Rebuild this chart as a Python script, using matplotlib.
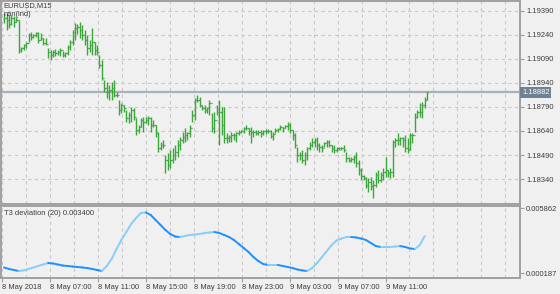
import numpy as np
import matplotlib
matplotlib.use('Agg')
import matplotlib.pyplot as plt
import matplotlib.transforms as mtransforms

# price bars (EURUSD M15)
highs = [1.19378, 1.19371, 1.19365, 1.19365, 1.19359, 1.19353, 1.19334, 1.19165, 1.19184, 1.19196,
         1.19253, 1.19259, 1.19246, 1.19259, 1.19259, 1.19253, 1.19221, 1.19221, 1.19159, 1.19146,
         1.19146, 1.19153, 1.19146, 1.19159, 1.19140, 1.19134, 1.19178, 1.19209, 1.19271, 1.19315,
         1.19309, 1.19321, 1.19303, 1.19271, 1.19240, 1.19209, 1.19284, 1.19196, 1.19178, 1.19115,
         1.19084, 1.18959, 1.18946, 1.18928, 1.18946, 1.18959, 1.18884, 1.18834, 1.18815, 1.18803,
         1.18771, 1.18759, 1.18790, 1.18784, 1.18721, 1.18678, 1.18721, 1.18728, 1.18728, 1.18734,
         1.18728, 1.18709, 1.18678, 1.18634, 1.18571, 1.18584, 1.18490, 1.18503, 1.18521, 1.18534,
         1.18553, 1.18584, 1.18603, 1.18634, 1.18659, 1.18634, 1.18678, 1.18771, 1.18846, 1.18865,
         1.18853, 1.18803, 1.18803, 1.18790, 1.18834, 1.18753, 1.18759, 1.18803, 1.18834, 1.18790,
         1.18790, 1.18628, 1.18615, 1.18634, 1.18628, 1.18634, 1.18646, 1.18646, 1.18665, 1.18678,
         1.18659, 1.18665, 1.18646, 1.18646, 1.18646, 1.18646, 1.18646, 1.18653, 1.18653, 1.18646,
         1.18634, 1.18659, 1.18659, 1.18678, 1.18665, 1.18678, 1.18696, 1.18690, 1.18646, 1.18628,
         1.18540, 1.18509, 1.18521, 1.18509, 1.18540, 1.18571, 1.18596, 1.18596, 1.18603, 1.18565,
         1.18553, 1.18571, 1.18584, 1.18584, 1.18553, 1.18553, 1.18540, 1.18540, 1.18540, 1.18553,
         1.18509, 1.18478, 1.18478, 1.18490, 1.18509, 1.18459, 1.18409, 1.18365, 1.18353, 1.18346,
         1.18353, 1.18334, 1.18384, 1.18396, 1.18384, 1.18409, 1.18478, 1.18396, 1.18409, 1.18584,
         1.18596, 1.18628, 1.18603, 1.18603, 1.18615, 1.18596, 1.18628, 1.18628, 1.18753, 1.18771,
         1.18815, 1.18821, 1.18853, 1.18884]
lows = [1.19315, 1.19271, 1.19284, 1.19303, 1.19290, 1.19321, 1.19128, 1.19134, 1.19146, 1.19159,
        1.19196, 1.19209, 1.19221, 1.19228, 1.19190, 1.19209, 1.19178, 1.19178, 1.19096, 1.19084,
        1.19103, 1.19109, 1.19115, 1.19109, 1.19103, 1.19103, 1.19115, 1.19146, 1.19178, 1.19209,
        1.19246, 1.19221, 1.19209, 1.19178, 1.19115, 1.19134, 1.19115, 1.19115, 1.19115, 1.19034,
        1.18959, 1.18884, 1.18846, 1.18834, 1.18834, 1.18853, 1.18853, 1.18740, 1.18753, 1.18759,
        1.18696, 1.18690, 1.18696, 1.18709, 1.18615, 1.18628, 1.18665, 1.18634, 1.18690, 1.18678,
        1.18634, 1.18665, 1.18603, 1.18509, 1.18521, 1.18534, 1.18378, 1.18396, 1.18409, 1.18440,
        1.18459, 1.18478, 1.18521, 1.18565, 1.18571, 1.18584, 1.18603, 1.18696, 1.18709, 1.18821,
        1.18790, 1.18771, 1.18753, 1.18753, 1.18740, 1.18634, 1.18628, 1.18740, 1.18553, 1.18615,
        1.18565, 1.18565, 1.18571, 1.18571, 1.18584, 1.18571, 1.18615, 1.18628, 1.18628, 1.18646,
        1.18615, 1.18565, 1.18603, 1.18615, 1.18615, 1.18603, 1.18615, 1.18621, 1.18628, 1.18596,
        1.18584, 1.18628, 1.18634, 1.18646, 1.18634, 1.18659, 1.18646, 1.18628, 1.18584, 1.18534,
        1.18446, 1.18459, 1.18440, 1.18428, 1.18459, 1.18521, 1.18540, 1.18540, 1.18521, 1.18509,
        1.18509, 1.18540, 1.18540, 1.18540, 1.18509, 1.18503, 1.18509, 1.18521, 1.18521, 1.18509,
        1.18446, 1.18446, 1.18446, 1.18440, 1.18415, 1.18365, 1.18334, 1.18334, 1.18284, 1.18259,
        1.18271, 1.18221, 1.18290, 1.18315, 1.18321, 1.18334, 1.18353, 1.18353, 1.18346, 1.18353,
        1.18540, 1.18553, 1.18553, 1.18540, 1.18509, 1.18503, 1.18521, 1.18565, 1.18634, 1.18721,
        1.18728, 1.18721, 1.18784, 1.18834]
closes = [1.19346, 1.19334, 1.19309, 1.19346, 1.19321, 1.19334, 1.19146, 1.19159, 1.19178, 1.19190,
          1.19240, 1.19228, 1.19240, 1.19253, 1.19209, 1.19221, 1.19190, 1.19184, 1.19134, 1.19115,
          1.19134, 1.19128, 1.19134, 1.19146, 1.19115, 1.19128, 1.19165, 1.19196, 1.19259, 1.19284,
          1.19290, 1.19271, 1.19240, 1.19209, 1.19159, 1.19178, 1.19196, 1.19146, 1.19134, 1.19053,
          1.18971, 1.18909, 1.18884, 1.18896, 1.18909, 1.18865, 1.18865, 1.18771, 1.18803, 1.18784,
          1.18721, 1.18740, 1.18771, 1.18728, 1.18646, 1.18665, 1.18709, 1.18696, 1.18709, 1.18721,
          1.18678, 1.18678, 1.18628, 1.18534, 1.18553, 1.18553, 1.18459, 1.18428, 1.18459, 1.18490,
          1.18509, 1.18553, 1.18584, 1.18603, 1.18615, 1.18628, 1.18659, 1.18740, 1.18834, 1.18834,
          1.18803, 1.18784, 1.18771, 1.18784, 1.18815, 1.18659, 1.18709, 1.18759, 1.18759, 1.18678,
          1.18596, 1.18596, 1.18603, 1.18615, 1.18615, 1.18628, 1.18634, 1.18640, 1.18659, 1.18659,
          1.18640, 1.18634, 1.18634, 1.18628, 1.18634, 1.18628, 1.18640, 1.18640, 1.18640, 1.18609,
          1.18621, 1.18646, 1.18653, 1.18665, 1.18659, 1.18671, 1.18678, 1.18646, 1.18615, 1.18553,
          1.18490, 1.18490, 1.18459, 1.18490, 1.18534, 1.18553, 1.18571, 1.18584, 1.18553, 1.18540,
          1.18534, 1.18565, 1.18571, 1.18553, 1.18534, 1.18521, 1.18534, 1.18534, 1.18534, 1.18521,
          1.18471, 1.18459, 1.18465, 1.18478, 1.18440, 1.18396, 1.18359, 1.18346, 1.18303, 1.18321,
          1.18296, 1.18303, 1.18365, 1.18334, 1.18365, 1.18384, 1.18396, 1.18378, 1.18384, 1.18571,
          1.18584, 1.18584, 1.18596, 1.18584, 1.18534, 1.18521, 1.18615, 1.18615, 1.18728, 1.18759,
          1.18759, 1.18803, 1.18834, 1.18882]
first_open = 1.19340
last_price = 1.18882

# T3 deviation (20), one reading every 2 bars
t3_dev = [0.00067, 0.00054, 0.00045, 0.00036, 0.00041, 0.00054, 0.00067, 0.00080, 0.00093, 0.00106,
          0.00102, 0.00093, 0.00084, 0.00080, 0.00075, 0.00071, 0.00067, 0.00062, 0.00054, 0.00045,
          0.00036, 0.00080, 0.00141, 0.00228, 0.00307, 0.00377, 0.00447, 0.00499, 0.00543, 0.00547,
          0.00525, 0.00481, 0.00438, 0.00394, 0.00359, 0.00337, 0.00333, 0.00342, 0.00351, 0.00355,
          0.00359, 0.00368, 0.00372, 0.00377, 0.00368, 0.00351, 0.00333, 0.00307, 0.00272, 0.00237,
          0.00202, 0.00158, 0.00123, 0.00097, 0.00089, 0.00089, 0.00089, 0.00080, 0.00071, 0.00062,
          0.00049, 0.00041, 0.00036, 0.00062, 0.00106, 0.00158, 0.00211, 0.00263, 0.00303, 0.00320,
          0.00333, 0.00333, 0.00329, 0.00320, 0.00307, 0.00281, 0.00254, 0.00246, 0.00246, 0.00246,
          0.00250, 0.00254, 0.00246, 0.00233, 0.00228, 0.00263, 0.00340]

price_ticks = [1.19390, 1.19240, 1.19090, 1.18940, 1.18790, 1.18640, 1.18490, 1.18340]
ind_ticks = [0.005862, 0.000187]
time_labels = ['8 May 2018', '8 May 07:00', '8 May 11:00', '8 May 15:00', '8 May 19:00',
               '8 May 23:00', '9 May 03:00', '9 May 07:00', '9 May 11:00']
time_pos = [-0.8, 18.8, 38.4, 58.0, 77.6, 97.2, 116.8, 136.4, 156.0]

bg = '#f0f0f0'
grid_c = '#c8c8c8'
frame_c = '#a0a0a0'
txt_c = '#3c3c3c'
bar_c = '#3ca53c'
fs = 5.4

plt.rcParams['font.family'] = ['Liberation Sans', 'DejaVu Sans']
fig = plt.figure(figsize=(5.6, 2.94), dpi=100, facecolor=bg)
ax = fig.add_axes([1/560, 1 - 204/294, 519/560, 203/294], facecolor=bg)
ax2 = fig.add_axes([1/560, 1 - 278/294, 519/560, 72/294], facecolor=bg)

n = len(highs)
x = np.arange(n)
opens = [first_open] + closes[:-1]
xlim = (-1.25, 211.0)

# main price pane
for p in price_ticks:
    ax.axhline(p, color=grid_c, lw=0.8, ls=(0, (3, 3)), zorder=0)
for a in (ax, ax2):
    for k in range(22):
        a.axvline(-0.8 + 9.8 * k, color=grid_c, lw=0.8, ls=(0, (3, 3)), zorder=0)

ax.axhline(last_price, color='#a8b0b8', lw=1.6, zorder=1)
ax.vlines(x, lows, highs, color=bar_c, lw=1.0, zorder=2)
ax.hlines(opens, x - 0.5, x, color=bar_c, lw=0.9, zorder=2)
ax.hlines(closes, x, x + 0.5, color=bar_c, lw=0.9, zorder=2)

ax.set_xlim(*xlim)
ax.set_ylim(1.18184, 1.19452)
ax.yaxis.tick_right()
ax.set_yticks(price_ticks)
ax.set_yticklabels(['%.5f' % p for p in price_ticks])
ax.set_xticks([])
ax.tick_params(axis='y', length=3, width=0.8, color=frame_c, labelsize=fs,
               labelcolor=txt_c, pad=1.5)

tr = mtransforms.blended_transform_factory(ax.transAxes, ax.transData)
ax.text(1.004, last_price, '%.5f' % last_price, transform=tr, fontsize=fs, color='white',
        va='center', ha='left',
        bbox=dict(boxstyle='square,pad=0.25', fc='#6f8294', ec='none'))

ax.text(0.005, 0.997, 'EURUSD,M15', transform=ax.transAxes, fontsize=fs, color=txt_c,
        va='top', ha='left')
ax.text(0.005, 0.952, 'nan(ind)', transform=ax.transAxes, fontsize=fs, color=txt_c,
        va='top', ha='left')

# indicator pane
xi = np.arange(len(t3_dev)) * 2
for i in range(len(t3_dev) - 1):
    c = '#87cefa' if t3_dev[i + 1] >= t3_dev[i] else '#1e90ff'
    ax2.plot(xi[i:i + 2], t3_dev[i:i + 2], color=c, lw=1.4, solid_capstyle='round', zorder=3)

ax2.set_xlim(*xlim)
ax2.set_ylim(-0.000249, 0.006037)
ax2.yaxis.tick_right()
ax2.set_yticks(ind_ticks)
ax2.set_yticklabels(['%.6f' % v for v in ind_ticks])
ax2.set_xticks(time_pos)
ax2.set_xticklabels(time_labels, ha='left')
ax2.tick_params(axis='y', length=3, width=0.8, color=frame_c, labelsize=fs,
                labelcolor=txt_c, pad=1.5)
ax2.tick_params(axis='x', length=3, width=0.8, color=frame_c, labelsize=fs,
                labelcolor=txt_c, pad=1.5)
ax2.text(0.005, 0.95, 'T3 deviation (20) 0.003400', transform=ax2.transAxes, fontsize=fs,
         color=txt_c, va='top', ha='left')

for a in (ax, ax2):
    for s in a.spines.values():
        s.set_color(frame_c)
        s.set_linewidth(1.4)

fig.savefig('out.png', dpi=100, facecolor=bg)
